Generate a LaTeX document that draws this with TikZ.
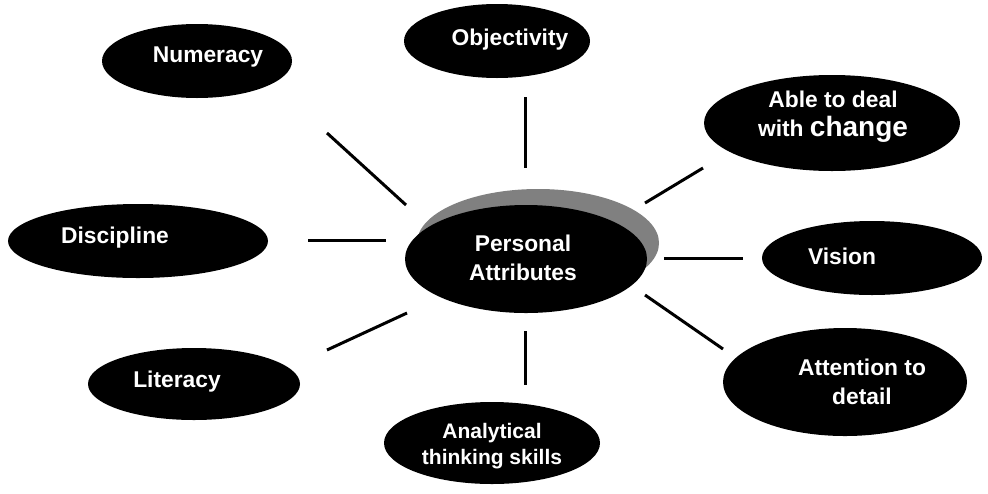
\documentclass[tikz,border=0pt]{standalone}
\usepackage{fontspec}
\setmainfont{Liberation Sans}
\usetikzlibrary{shapes.geometric}
\begin{document}
\begin{tikzpicture}[x=0.5pt,y=-0.5pt,
    blob/.style={ellipse,fill=black,inner sep=0pt},
    word/.style={text=white,font=\fontsize{11.4}{14.5}\selectfont\bfseries,align=center,inner sep=0pt},
    spoke/.style={line width=1.5pt}]
    \useasboundingbox (0,0) rectangle (988,493);
    % centre with its grey shadow
    \node[blob,fill=gray,minimum width=121pt,minimum height=54pt] (shadow) at (538,243) {};
    \node[blob,minimum width=121pt,minimum height=54pt] (core) at (526,259) {};
    \node[word] (core-t) at (523,258) {Personal\\Attributes};
    % outer attributes
    \node[blob,minimum width=95pt,minimum height=37pt] (numeracy) at (197,61) {};
    \node[word] (numeracy-t) at (208,57) {Numeracy};
    \node[blob,minimum width=93pt,minimum height=37pt] (objectivity) at (497,41) {};
    \node[word] (objectivity-t) at (510,40) {Objectivity};
    \node[blob,minimum width=128pt,minimum height=48pt] (change) at (832,123) {};
    \node[word] (change-t) at (833,117) {Able to deal\\with {\fontsize{14}{14}\selectfont change}};
    \node[blob,minimum width=130pt,minimum height=37pt] (discipline) at (138,241) {};
    \node[word] (discipline-t) at (115,238) {Discipline};
    \node[blob,minimum width=110pt,minimum height=37pt] (vision) at (872,258) {};
    \node[word] (vision-t) at (842,256) {Vision};
    \node[blob,minimum width=106pt,minimum height=36pt] (literacy) at (194,384) {};
    \node[word] (literacy-t) at (177,382) {Literacy};
    \node[blob,minimum width=122pt,minimum height=54pt] (detail) at (845,382) {};
    \node[word] (detail-t) at (862,382) {Attention to\\detail};
    \node[blob,minimum width=108pt,minimum height=41pt] (analytic) at (492,443) {};
    \node[word,font=\fontsize{10.5}{13}\selectfont\bfseries] (analytic-t) at (492,446) {Analytical\\thinking skills};
    % spokes, they stop short of the ellipses
    \coordinate (numeracy-a) at (327,133);
    \coordinate (numeracy-b) at (406,205);
    \coordinate (objectivity-a) at (525,97);
    \coordinate (objectivity-b) at (525,168);
    \coordinate (change-a) at (645,203);
    \coordinate (change-b) at (703,168);
    \coordinate (discipline-a) at (308,240);
    \coordinate (discipline-b) at (386,240);
    \coordinate (vision-a) at (664,258);
    \coordinate (vision-b) at (743,258);
    \coordinate (literacy-a) at (327,350);
    \coordinate (literacy-b) at (407,313);
    \coordinate (analytic-a) at (525,331);
    \coordinate (analytic-b) at (525,385);
    \coordinate (detail-a) at (645,295);
    \coordinate (detail-b) at (723,349);
    \draw[spoke] (numeracy-a) -- (numeracy-b);
    \draw[spoke] (objectivity-a) -- (objectivity-b);
    \draw[spoke] (change-a) -- (change-b);
    \draw[spoke] (discipline-a) -- (discipline-b);
    \draw[spoke] (vision-a) -- (vision-b);
    \draw[spoke] (literacy-a) -- (literacy-b);
    \draw[spoke] (analytic-a) -- (analytic-b);
    \draw[spoke] (detail-a) -- (detail-b);
\end{tikzpicture}
\end{document}
